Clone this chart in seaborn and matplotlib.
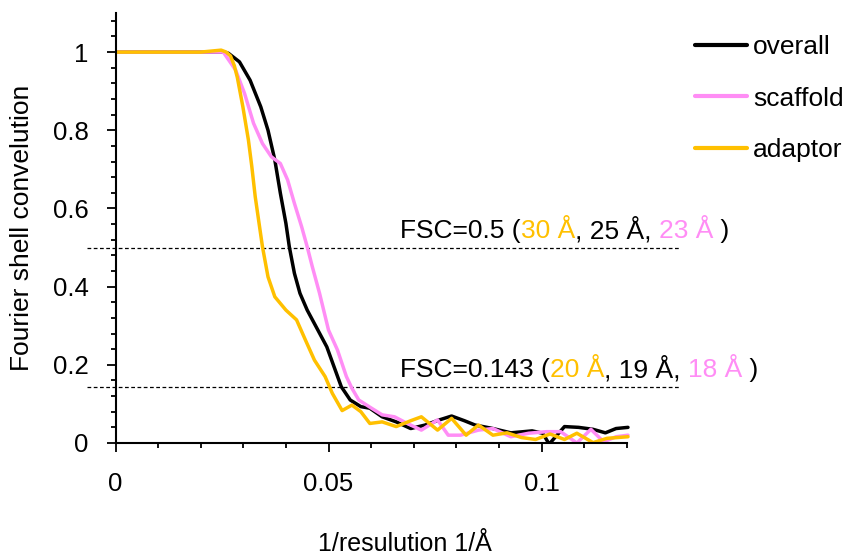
import numpy as np
import pandas as pd
import matplotlib
matplotlib.use("Agg")
import matplotlib.pyplot as plt
import seaborn as sns
from matplotlib.ticker import FormatStrFormatter

# ---------------- data ----------------
overall_x = [0.0, 0.010, 0.020, 0.0253, 0.0265, 0.0291, 0.0316, 0.0341, 0.0358, 0.0374, 0.0387, 0.0400,
             0.0408, 0.0420, 0.0433, 0.0450, 0.0475, 0.0496, 0.0513, 0.0530, 0.0551, 0.0576,
             0.0597, 0.0626, 0.0659, 0.0693, 0.0727, 0.0760, 0.0789, 0.0819, 0.0844, 0.0886,
             0.0928, 0.0978, 0.1003, 0.1018, 0.1033, 0.1054, 0.1087, 0.1121, 0.1150, 0.1175, 0.1203]
overall_y = [1.0, 1.0, 1.0, 1.0, 0.997, 0.975, 0.928, 0.860, 0.800, 0.724, 0.639, 0.562,
             0.502, 0.434, 0.383, 0.340, 0.289, 0.246, 0.195, 0.144, 0.110, 0.093,
             0.089, 0.067, 0.054, 0.037, 0.046, 0.059, 0.069, 0.057, 0.046, 0.037,
             0.026, 0.031, 0.025, -0.003, 0.016, 0.042, 0.040, 0.035, 0.026, 0.037, 0.040]

scaffold_x = [0.0, 0.010, 0.020, 0.0253, 0.0282, 0.0303, 0.0324, 0.0345, 0.0366, 0.0387, 0.0404, 0.0420,
              0.0437, 0.0450, 0.0462, 0.0479, 0.0500, 0.0521, 0.0542, 0.0555, 0.0571, 0.0601,
              0.0626, 0.0655, 0.0685, 0.0718, 0.0756, 0.0781, 0.0810, 0.0852, 0.0886, 0.0928,
              0.0970, 0.1012, 0.1045, 0.1083, 0.1116, 0.1146, 0.1175, 0.1203]
scaffold_y = [1.0, 1.0, 1.0, 1.0, 0.954, 0.894, 0.818, 0.766, 0.732, 0.715, 0.673, 0.613,
              0.553, 0.502, 0.451, 0.383, 0.289, 0.238, 0.170, 0.140, 0.110, 0.089,
              0.072, 0.067, 0.050, 0.033, 0.059, 0.020, 0.020, 0.033, 0.037, 0.016,
              0.025, 0.029, 0.029, 0.000, 0.035, 0.003, 0.016, 0.020]

adaptor_x = [0.0, 0.010, 0.020, 0.0248, 0.0260, 0.0270, 0.0279, 0.0286, 0.0299, 0.0312, 0.0320, 0.0328,
             0.0337, 0.0345, 0.0358, 0.0374, 0.0400, 0.0425, 0.0446, 0.0467, 0.0492, 0.0509,
             0.0532, 0.0555, 0.0576, 0.0597, 0.0626, 0.0659, 0.0693, 0.0718, 0.0756, 0.0789,
             0.0823, 0.0852, 0.0886, 0.0919, 0.0953, 0.0986, 0.1020, 0.1054, 0.1083, 0.1121,
             0.1154, 0.1203]
adaptor_y = [1.0, 1.0, 1.0, 1.005, 1.0, 0.990, 0.965, 0.935, 0.860, 0.775, 0.707, 0.630,
             0.562, 0.502, 0.425, 0.374, 0.340, 0.315, 0.263, 0.212, 0.170, 0.127,
             0.083, 0.097, 0.080, 0.050, 0.054, 0.042, 0.057, 0.067, 0.033, 0.063,
             0.020, 0.046, 0.020, 0.026, 0.014, 0.009, 0.023, 0.009, 0.025, 0.001,
             0.012, 0.016]

series_names = ["overall", "scaffold", "adaptor"]
series_colors = {"overall": "#000000", "scaffold": "#FF8DF5", "adaptor": "#FFC000"}

fsc_thresholds = [0.5, 0.143]
res_05 = ["30 Å", "25 Å", "23 Å"]
res_0143 = ["20 Å", "19 Å", "18 Å"]

x_major = [0, 0.05, 0.1]
y_major = [0, 0.2, 0.4, 0.6, 0.8, 1.0]

df = pd.concat([
    pd.DataFrame({"x": overall_x, "y": overall_y, "series": "overall"}),
    pd.DataFrame({"x": scaffold_x, "y": scaffold_y, "series": "scaffold"}),
    pd.DataFrame({"x": adaptor_x, "y": adaptor_y, "series": "adaptor"}),
])

# ---------------- style ----------------
sns.set_theme(style="ticks")
plt.rcParams["font.family"] = ["Liberation Sans", "DejaVu Sans"]
for k in ["text.color", "axes.labelcolor", "xtick.color", "ytick.color", "axes.edgecolor"]:
    plt.rcParams[k] = "black"
FS = 19

W, H = 847, 555
fig = plt.figure(figsize=(W / 100, H / 100), dpi=100)
ax_l, ax_r, ax_t, ax_b = 115.5, 680, 13, 443
ax = fig.add_axes([ax_l / W, 1 - ax_b / H, (ax_r - ax_l) / W, (ax_b - ax_t) / H])

sns.lineplot(data=df, x="x", y="y", hue="series", hue_order=series_names,
             palette=series_colors, estimator=None, sort=False, linewidth=2.5,
             ax=ax, legend=True)
for ln in ax.get_lines():
    ln.set_solid_joinstyle("round")
    ln.set_solid_capstyle("round")

xmax = (ax_r - ax_l) / 4260
ax.set_xlim(0, xmax)
ax.set_ylim(0, 1.1)

# dashed threshold lines (extend slightly left of the y axis)
for t in fsc_thresholds:
    ax.plot([-0.0067, xmax], [t, t], color="black", linestyle=(0, (3, 2)),
            linewidth=0.9, clip_on=False, zorder=1)

# spines
for s in ["top", "right"]:
    ax.spines[s].set_visible(False)
ax.spines["bottom"].set_bounds(0, 0.12)
ax.spines["left"].set_bounds(0, 1.1)
for s in ["left", "bottom"]:
    ax.spines[s].set_linewidth(1.5)

ax.set_xticks(x_major)
ax.set_xticks([v / 100 for v in range(0, 13)], minor=True)
ax.set_yticks(y_major)
ax.set_yticks([v * 0.04 for v in range(0, 28)], minor=True)
ax.xaxis.set_major_formatter(FormatStrFormatter("%g"))
ax.yaxis.set_major_formatter(FormatStrFormatter("%g"))

ax.tick_params(axis="both", which="major", direction="out", length=6.5, width=1.3,
               labelsize=18.5)
ax.tick_params(axis="both", which="minor", direction="out", length=3.5, width=1.3)
ax.tick_params(axis="x", which="major", pad=14.5)
ax.tick_params(axis="y", which="major", pad=13)

ax.set_xlabel("1/resulution 1/Å", fontsize=18)
ax.set_ylabel("Fourier shell convelution", fontsize=FS)
ax.xaxis.set_label_coords((405 - ax_l) / (ax_r - ax_l), -(551 - ax_b) / (ax_b - ax_t))
ax.xaxis.label.set_va("baseline")
ax.yaxis.set_label_coords(-(ax_l - 22) / (ax_r - ax_l), 0.5)
ax.yaxis.label.set_va("center")

# multi-coloured annotations
def color_text(x, y, parts):
    t = ax.text(x, y, parts[0][0], color=parts[0][1], fontsize=FS, va="baseline", ha="left")
    for s, c in parts[1:]:
        t = ax.annotate(s, xy=(1, 0), xycoords=t, va="bottom", ha="left",
                        color=c, fontsize=FS)

orange = series_colors["adaptor"]
pink = series_colors["scaffold"]
tx = (400 - ax_l) / 4260
color_text(tx, (443 - 238) / 391, [("FSC=0.5 (", "black"), (res_05[0], orange),
                                   (", " + res_05[1] + ", ", "black"),
                                   (res_05[2], pink), (" )", "black")])
color_text(tx, (443 - 377) / 391, [("FSC=0.143 (", "black"), (res_0143[0], orange),
                                   (", " + res_0143[1] + ", ", "black"),
                                   (res_0143[2], pink), (" )", "black")])

# legend outside at right
handles, labels = ax.get_legend_handles_labels()
ax.legend_.remove()
for h in handles:
    h.set_linewidth(3.0)
fig.legend(handles, labels, loc="upper left", bbox_to_anchor=(695 / W, 1 - 35 / H),
           frameon=False, fontsize=FS, handlelength=1.97, handletextpad=0.23,
           labelspacing=1.05, borderpad=0, borderaxespad=0)

fig.savefig("out.png", dpi=100)
